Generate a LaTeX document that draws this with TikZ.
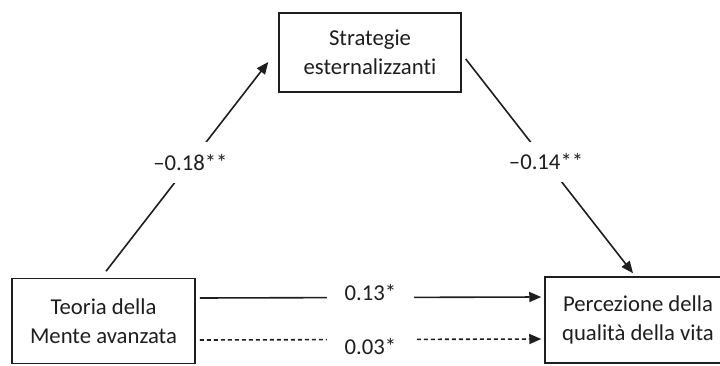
\documentclass[tikz,border=0pt]{standalone}
\usepackage{fontspec}
\setmainfont[Ligatures={NoCommon}]{Carlito}
\usepackage{xcolor}
\usetikzlibrary{arrows.meta,positioning,calc}
\definecolor{Ink}{HTML}{1E1E1E}

\begin{document}
\begin{tikzpicture}[x=1pt,y=1pt,
    box/.style={draw=Ink, line width=1.5pt, align=center, text=Ink,
      font=\fontsize{22.7}{29}\selectfont},
    coef/.style={fill=white, text=Ink, inner xsep=18pt, inner ysep=12pt,
      font=\fontsize{22.7}{29}\selectfont},
    path/.style={Ink, line width=1.6pt, -{Triangle[length=12pt,width=10pt]}}]
        \useasboundingbox (0,0) rectangle (720,365);
        \node[box, minimum width=182pt, minimum height=79pt] (strat) at (370,312.5) {Strategie\\esternalizzant\kern0pt i};
        \node[box, minimum width=183pt, minimum height=85pt] (teoria) at (103.5,44) {Teoria della\\Mente avanzata};
        \node[box, minimum width=186pt, minimum height=86pt] (perc) at (638,45) {Percezione della\\qualità della vita};
        \draw[path] ([shift={(2.5,6.5)}]teoria.north) -- node[coef, pos=0.52] {–0.18**} ([shift={(-10,-9.5)}]strat.west);
        \draw[path] ([shift={(4,-6.5)}]strat.east) -- node[coef, pos=0.48] {–0.14**} ([shift={(-5,3)}]perc.north);
        \draw[path] ([shift={(4,23)}]teoria.east) -- node[coef, yshift=5pt] {0.13*} ([shift={(-3,23)}]perc.west);
        \draw[path, dash pattern=on 4pt off 3pt] ([shift={(4,-19)}]teoria.east) -- node[coef, yshift=-7pt] {0.03*} ([shift={(-3,-19)}]perc.west);
      \end{tikzpicture}
\end{document}
